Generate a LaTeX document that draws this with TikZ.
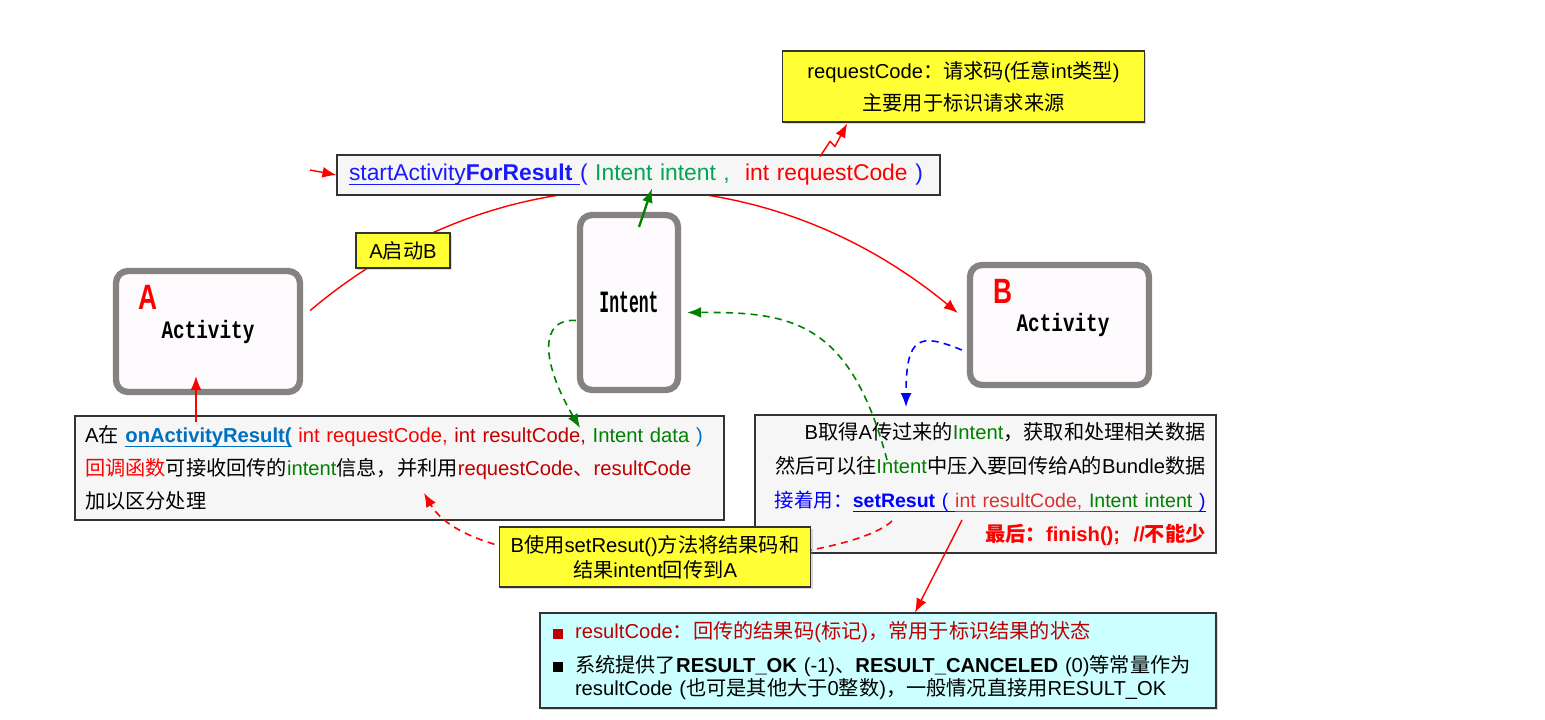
\documentclass[tikz,border=0pt]{standalone}
\usepackage{fontspec}
\usepackage{graphicx}
\usetikzlibrary{arrows.meta,calc,shadows}
\setmainfont{Liberation Sans}
\setmonofont{Liberation Mono}
\newfontfamily\cjk{Noto Sans CJK SC}
\definecolor{actgray}{RGB}{133,130,128}
\definecolor{actfill}{RGB}{253,251,253}
\definecolor{notegray}{RGB}{246,246,246}
\definecolor{noteline}{RGB}{51,51,51}
\definecolor{tagyellow}{RGB}{255,255,51}
\definecolor{tipcyan}{RGB}{204,255,255}
\definecolor{callblue}{RGB}{26,26,255}
\definecolor{onblue}{RGB}{0,112,192}
\definecolor{pureblue}{RGB}{0,0,255}
\definecolor{lightgreen}{RGB}{0,166,81}
\definecolor{darkgreen}{RGB}{0,128,0}
\definecolor{darkred}{RGB}{192,0,0}
\definecolor{ulred}{RGB}{214,50,50}
\newXeTeXintercharclass\cjkclass
\newcount\cjkcode
\cjkcode="4E00
\loop\XeTeXcharclass\cjkcode=\cjkclass\advance\cjkcode by 1\ifnum\cjkcode<"9FA6\repeat
\XeTeXcharclass"3001=\cjkclass
\XeTeXcharclass"FF0C=\cjkclass
\XeTeXcharclass"FF1A=\cjkclass
\XeTeXinterchartoks 0 \cjkclass={\begingroup\cjk}
\XeTeXinterchartoks 4095 \cjkclass={\begingroup\cjk}
\XeTeXinterchartoks \cjkclass 0={\endgroup}
\XeTeXinterchartoks \cjkclass 4095={\endgroup}
\XeTeXinterchartokenstate=1
\newcommand\uln[1]{\setbox0\hbox{#1}\rlap{\rule[-2.4pt]{\wd0}{0.6pt}}\box0}
\newcommand\bul{\rule{0.5em}{0.5em}\hspace{0.24cm}}
\begin{document}
\begin{tikzpicture}[font=\fontsize{11.5}{19}\selectfont,
 actbox/.style={draw=actgray,line width=3.6pt,rounded corners=0.24cm,fill=actfill,font=\ttfamily\bfseries\fontsize{11}{13}\selectfont},
 letter/.style={text=red,font=\bfseries\fontsize{20}{20}\selectfont},
 note/.style={draw=noteline,line width=0.6pt,fill=notegray},
 tag/.style={draw=noteline,line width=0.6pt,fill=tagyellow,align=center,drop shadow={shadow xshift=1.2pt,shadow yshift=-1.2pt,opacity=0.3}},
 arr/.style={-{Latex[length=2.8mm,width=2.2mm]},red,line width=0.8pt},
 garr/.style={-{Latex[length=2.8mm,width=2.2mm]},darkgreen,line width=1.3pt},
 dashln/.style={dash pattern=on 4pt off 3pt,line width=0.9pt}]
\useasboundingbox (0,0) rectangle (30.9,-14.38);
\node[actbox,minimum width=3.68cm,minimum height=2.42cm] (Aact) at (4.16,-6.63) {\scalebox{1}[1.3]{Activity}};
\node[letter] (Alet) at (2.96,-5.94) {\scalebox{0.75}[1]{A}};
\node[actbox,minimum width=1.96cm,minimum height=3.5cm] (Intent) at (12.58,-6.05) {\scalebox{0.85}[1.6]{Intent}};
\node[actbox,minimum width=3.58cm,minimum height=2.4cm] (Bact) at (21.19,-6.5) {\hspace{0.14cm}\scalebox{1}[1.3]{Activity}};
\node[letter] (Blet) at (20.06,-5.82) {\scalebox{0.75}[1]{B}};
\draw[arr] ($(Aact.east)+(0.14,0.42)$) .. controls (10,-3) and (15.2,-3) .. ($(Bact.west)+(-0.18,0.24)$);
\node[note,fill=notegray,minimum width=12.06cm,minimum height=0.8cm,text width=11.58cm,inner xsep=0.24cm,align=left,font=\fontsize{13}{15}\selectfont] (call) at (12.77,-3.5)
 {\textcolor{callblue}{\uln{startActivity\textbf{ForResult}\ }(} \textcolor{lightgreen}{Intent intent ,}\ \ \textcolor{red}{int requestCode} \textcolor{callblue}{)}};
\node[tag,minimum width=7.22cm,minimum height=1.42cm,text width=7cm,font=\fontsize{11.5}{18.2}\selectfont] (req) at (19.27,-1.73)
 {requestCode：请求码(任意int类型)\\主要用于标识请求来源};
\node[tag,minimum width=1.88cm,minimum height=0.7cm] (AtoB) at (8.06,-5.01) {A启动B};
\coordinate (callin) at (6.2,-3.4);
\draw[arr] (callin) -- (call.west);
\draw[arr] ($(call.north)+(3.63,-0.04)$) -- ++(0.2,0.3) -- ++(0.1,-0.1) -- ($(req.south west)+(1.3,-0.02)$);
\coordinate (gup) at (12.78,-4.54);
\draw[garr] (gup) -- ($(call.south)+(0.27,0.14)$);
\node[note,minimum width=12.98cm,minimum height=2.08cm,text width=12.58cm,inner xsep=0.2cm,align=left,font=\fontsize{11.5}{18.8}\selectfont] (Atext) at (7.99,-9.36)
 {A在 \textcolor{onblue}{\uln{\textbf{onActivityResult(}}}\ \textcolor{red}{int requestCode,} \textcolor{darkred}{int resultCode,} \textcolor{darkgreen}{Intent data} \textcolor{onblue}{)}\\
 \textcolor{red}{回调函数}可接收回传的\textcolor{darkgreen}{intent}信息，并利用\textcolor{darkred}{requestCode、resultCode}\\
 加以区分处理};
\node[note,minimum width=9.22cm,minimum height=2.76cm,text width=8.8cm,inner xsep=0.21cm,align=right,font=\fontsize{11.5}{19.4}\selectfont] (Btext) at (19.71,-9.68)
 {B取得A传过来的\textcolor{darkgreen}{Intent}，获取和处理相关数据\\
 然后可以往\textcolor{darkgreen}{Intent}中压入要回传给A的Bundle数据\\
 {\fontsize{11.1}{19.4}\selectfont\textcolor{pureblue}{接着用：}\textcolor{pureblue}{\uln{\textbf{setResut} (\ }}\textcolor{ulred}{\uln{int resultCode,\ }}\textcolor{darkgreen}{\uln{Intent intent\ }}\textcolor{pureblue}{\uln{)}}}\\
 \textcolor{red}{\textbf{最后：finish();\ \ //不能少}}};
\coordinate (bintent) at (17.74,-9.2);
\coordinate (idata) at (11.6,-8.56);
\coordinate (bset) at (18.12,-8.14);
\coordinate (aon) at (3.92,-8.44);
\draw[garr,dashln] (bintent) .. controls (17,-6.4) and (15.8,-6.24) .. ($(Intent.east)+(0.12,-0.2)$);
\draw[garr,dashln] ($(Intent.west)+(-0.02,-0.36)$) .. controls (10.8,-6.36) and (10.8,-7.2) .. (idata);
\draw[-{Latex[length=2.8mm,width=2.2mm]},pureblue,dashln] ($(Bact.west)+(-0.1,-0.5)$) .. controls (18.4,-6.66) and (18.12,-6.7) .. (bset);
\draw[arr] (aon) -- ($(Aact.south)+(-0.24,0.38)$);
\coordinate (bres) at (17.84,-10.42);
\coordinate (aresult) at (8.48,-9.86);
\draw[arr,dashln] (bres) .. controls (16.8,-11.4) and (9.6,-11.8) .. (aresult);
\node[tag,minimum width=6.2cm,minimum height=1.2cm,text width=6cm,font=\fontsize{11.5}{14.2}\selectfont] (setR) at (13.1,-11.14)
 {B使用setResut()方法将结果码和\\结果intent回传到A};
\node[note,fill=tipcyan,minimum width=13.52cm,minimum height=1.9cm,text width=13cm,inner xsep=0.26cm,align=left,font=\fontsize{11.5}{13.1}\selectfont,drop shadow={shadow xshift=1.2pt,shadow yshift=-1.2pt,opacity=0.3}] (cyan) at (17.56,-13.21)
 {\textcolor{darkred}{\bul resultCode：回传的结果码(标记)，常用于标识结果的状态}\\[6pt]
 \bul 系统提供了\textbf{RESULT\_OK} (-1)、\textbf{RESULT\_CANCELED} (0)等常量作为\\
 \hspace*{0.44cm}resultCode (也可是其他大于0整数)，一般情况直接用RESULT\_OK};
\coordinate (bfin) at (19.24,-10.4);
\draw[arr] (bfin) -- ($(cyan.north)+(0.74,0)$);
\end{tikzpicture}
\end{document}
